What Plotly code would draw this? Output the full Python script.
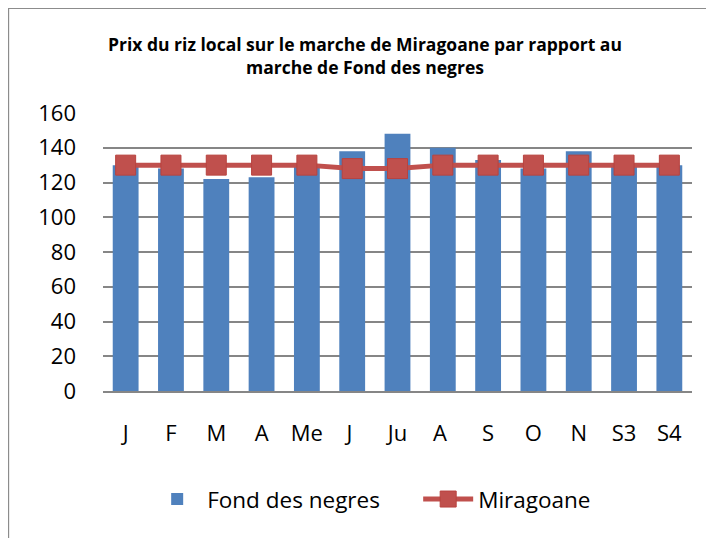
import plotly.graph_objects as go

mois = ["J", "F", "M", "A", "Me", "J ", "Ju", "A ", "S", "O", "N", "S3", "S4"]
fond_des_negres = [130, 128, 122, 123, 129, 138, 148, 140, 133, 128, 138, 129, 130]
miragoane = [130, 130, 130, 130, 130, 128, 128, 130, 130, 130, 130, 130, 130]

police = "Open Sans, sans-serif"

fig = go.Figure()

fig.add_trace(go.Bar(
    x=mois, y=fond_des_negres, name="Fond des negres",
    marker=dict(color="#4F81BD", line=dict(color="#4F81BD", width=0))))

fig.add_trace(go.Scatter(
    x=mois, y=miragoane, name="Miragoane", mode="lines+markers",
    line=dict(color="#C0504D", width=5),
    marker=dict(symbol="square", size=20, color="#C0504D",
                line=dict(color="#B8433F", width=1))))

# la page html ajoute 8px de marge au body
fig.update_layout(
    width=714, height=538,
    margin=dict(l=95, r=30, t=105, b=155),
    paper_bgcolor="white", plot_bgcolor="white",
    bargap=0.43,
    font=dict(family=police, size=22, color="black"),
    title=dict(
        text="<b>Prix du riz local sur le marche de Miragoane par rapport au<br>marche de Fond des negres</b>",
        x=0.5, xanchor="center", y=0.92, yanchor="middle",
        font=dict(family=police, size=17.5)),
    legend=dict(orientation="h", x=0.075, xanchor="left", y=-0.39, yanchor="middle",
                font=dict(size=22.5), itemwidth=50, entrywidth=206,
                traceorder="normal"),
    shapes=[dict(type="rect", xref="paper", yref="paper",
                 x0=-0.161, x1=1.3, y0=-0.8, y1=1.378,
                 line=dict(color="#8C8C8C", width=2), layer="below")],
)

fig.update_yaxes(range=[0, 160], dtick=20, showgrid=True, gridcolor="#868686",
                 gridwidth=1.5, zeroline=False, showline=False,
                 ticks="", ticklabelstandoff=26)
fig.update_xaxes(range=[-0.5, len(mois) - 0.5], showline=True,
                 linecolor="#868686", linewidth=1.5,
                 ticks="", ticklabelstandoff=22)

fig.write_html("out.html")
